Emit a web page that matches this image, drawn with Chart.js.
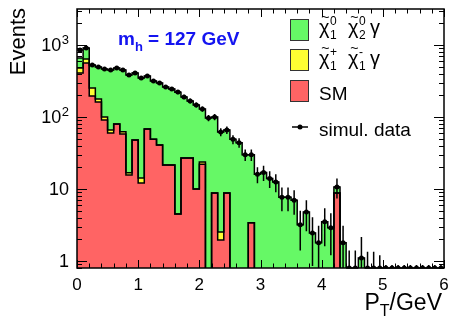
<!DOCTYPE html>
<html lang="en">
<head>
<meta charset="utf-8">
<script src="https://cdn.jsdelivr.net/npm/chart.js@4"></script>
<style>
  body { margin: 0; background: #fff; }
  canvas { display: block; }
</style>
</head>
<body>
<canvas id="ptChart" width="451" height="320"></canvas>
<script>
// lower edge of each 0.1 GeV bin
const ptLow = [0.0, 0.1, 0.2, 0.3, 0.4, 0.5, 0.6, 0.7, 0.8, 0.9,
               1.0, 1.1, 1.2, 1.3, 1.4, 1.5, 1.6, 1.7, 1.8, 1.9,
               2.0, 2.1, 2.2, 2.3, 2.4, 2.5, 2.6, 2.7, 2.8, 2.9,
               3.0, 3.1, 3.2, 3.3, 3.4, 3.5, 3.6, 3.7, 3.8, 3.9,
               4.0, 4.1, 4.2, 4.3, 4.4, 4.5, 4.6, 4.7, 4.8, 4.9,
               5.0, 5.1, 5.2, 5.3, 5.4, 5.5, 5.6, 5.7, 5.8, 5.9];
const BIN_WIDTH = 0.1;

const smEvents = [408, 562, 196, 161, 91, 60, 80, 58, 15.6, 48,
                  12.1, 68, 49, 41, 21.5, 21.5, 4.5, 27, 27, 10,
                  22, 0, 8.8, 1.96, 8.8, 0, 0, 0, 3.4, 0,
                  0, 0, 0, 0, 0, 0, 0, 0, 0, 0,
                  0, 0, 8.8, 0, 0, 0, 0, 0, 0, 0,
                  0, 0, 0, 0, 0, 0, 0, 0, 0, 0];
const charginoEvents = [72, 78, 57, 17, 9, 6, 0, 4.5, 1.2, 0,
                        2.1, 0, 0, 0, 0, 0, 0, 0, 0, 0,
                        1.7, 0, 0, 0.57, 0, 0, 0, 0, 0, 0,
                        0, 0, 0, 0, 0, 0, 0, 0, 0, 0,
                        0, 0, 0, 0, 0, 0, 0, 0, 0, 0,
                        0, 0, 0, 0, 0, 0, 0, 0, 0, 0];
const neutralinoEvents = [180, 268, 274, 317, 364, 384, 400, 387, 366, 360,
                          334, 303, 267, 256, 240, 224, 217, 163, 140, 137,
                          105, 97, 91, 59.5, 57, 49, 44, 30, 26.6, 16,
                          17, 14, 12.5, 7.7, 7.7, 7.0, 3.2, 4.8, 2.45, 1.8,
                          3.5, 2.9, 1.9, 1.8, 0, 0, 1.1, 0, 0, 0,
                          0, 0, 0, 0, 0, 0, 0, 0, 0, 0];
const dataEvents = [850, 908, 527, 495, 464, 450, 480, 450, 383, 408,
                    348, 371, 316, 297, 261, 245, 222, 190, 167, 147,
                    129, 97, 100, 62, 66, 49, 44, 30, 30, 16,
                    17, 14, 12.5, 7.7, 7.7, 7.0, 3.2, 4.8, 2.45, 1.8,
                    3.5, 2.9, 10.7, 1.8, 0, 0, 1.1, 0, 0, 0,
                    0, 0, 0, 0, 0, 0, 0, 0, 0, 0];
// error half width; for empty bins the upper end of the bar
const dataErr = [29, 30, 23, 22, 22, 21, 22, 21, 20, 20,
                 19, 19, 18, 17, 16, 16, 15, 14, 13, 12,
                 11, 10, 10, 8, 8, 7, 6.6, 5.5, 5.5, 4,
                 4.1, 3.7, 3.5, 2.8, 2.8, 2.6, 1.8, 2.2, 1.6, 1.3,
                 1.9, 1.7, 3.3, 1.3, 1.4, 1.4, 1.05, 1.35, 1.35, 1.2,
                 0.88, 0.88, 0.88, 0.88, 0.88, 0.88, 0.88, 0.88, 0.88, 0.88];

const xTickValues = [0, 1, 2, 3, 4, 5, 6];
const xTickLabels = ['0', '1', '2', '3', '4', '5', '6'];
const yTickValues = [1, 10, 100, 1000];
const yTickLabels = [['1', ''], ['10', ''], ['10', '2'], ['10', '3']];

const Y_MIN = 0.8, Y_MAX = 3160;
const FONT = '"Liberation Sans", Arial, Helvetica, sans-serif';
const GREEN = '#66f866', YELLOW = '#ffff33', RED = '#ff6464';

const redTop = smEvents.slice();
const yellowTop = smEvents.map((v, i) => v + charginoEvents[i]);
const greenTop = yellowTop.map((v, i) => v + neutralinoEvents[i]);

function stepPoints(values) {
    const pts = ptLow.map((x, i) => ({ x: x, y: values[i] > 0 ? values[i] : 0.1 }));
    const last = values[values.length - 1];
    pts.push({ x: ptLow[ptLow.length - 1] + BIN_WIDTH, y: last > 0 ? last : 0.1 });
    return pts;
}

const axesPlugin = {
    id: 'rootAxes',
    afterDatasetsDraw(chart) {
        const ctx = chart.ctx;
        const xs = chart.scales.x, ys = chart.scales.y, a = chart.chartArea;
        ctx.save();
        ctx.strokeStyle = '#000';
        ctx.lineWidth = 1.5;
        ctx.beginPath();
        for (let i = 0; i < ptLow.length; i++) {
            const v = dataEvents[i], e = dataErr[i];
            const xc = xs.getPixelForValue(ptLow[i] + BIN_WIDTH / 2);
            let top, bot, yv;
            if (v > 0) {
                yv = ys.getPixelForValue(v);
                top = ys.getPixelForValue(v + e);
                bot = v - e > Y_MIN ? ys.getPixelForValue(v - e) : a.bottom;
            } else {
                yv = a.bottom;
                top = ys.getPixelForValue(e);
                bot = a.bottom;
            }
            ctx.moveTo(xc, Math.max(top, a.top));
            ctx.lineTo(xc, bot);
            ctx.moveTo(xs.getPixelForValue(ptLow[i]), yv);
            ctx.lineTo(xs.getPixelForValue(ptLow[i] + BIN_WIDTH), yv);
        }
        ctx.stroke();
        ctx.restore();
    },
    afterDraw(chart) {
        const ctx = chart.ctx;
        const xs = chart.scales.x, ys = chart.scales.y, a = chart.chartArea;
        ctx.save();
        ctx.strokeStyle = '#000';
        ctx.fillStyle = '#000';
        ctx.lineWidth = 1.5;
        ctx.strokeRect(a.left, a.top, a.right - a.left, a.bottom - a.top);

        // x ticks, inward on bottom and top
        ctx.lineWidth = 1;
        ctx.beginPath();
        for (let k = 0; k <= 30; k++) {
            const px = Math.round(xs.getPixelForValue(k * 0.2)) + 0.5;
            const len = k % 5 === 0 ? 8 : 4.5;
            ctx.moveTo(px, a.bottom); ctx.lineTo(px, a.bottom - len);
            ctx.moveTo(px, a.top); ctx.lineTo(px, a.top + len);
        }
        // y ticks, log, inward on left and right
        for (let d = -1; d <= 3; d++) {
            for (let m = 1; m <= 9; m++) {
                const v = m * Math.pow(10, d);
                if (v < Y_MIN || v > Y_MAX) continue;
                const py = Math.round(ys.getPixelForValue(v)) + 0.5;
                const len = m === 1 ? 10 : 5;
                ctx.moveTo(a.left, py); ctx.lineTo(a.left + len, py);
                ctx.moveTo(a.right, py); ctx.lineTo(a.right - len, py);
            }
        }
        ctx.stroke();

        // tick labels
        ctx.font = '17px ' + FONT;
        ctx.textAlign = 'center';
        ctx.textBaseline = 'alphabetic';
        xTickValues.forEach((v, i) => ctx.fillText(xTickLabels[i], xs.getPixelForValue(v), 290));
        yTickValues.forEach((v, i) => {
            const py = ys.getPixelForValue(v);
            const [base, sup] = yTickLabels[i];
            let right = 69;
            ctx.textAlign = 'right';
            ctx.textBaseline = 'middle';
            if (sup) {
                ctx.font = '13px ' + FONT;
                ctx.textBaseline = 'alphabetic';
                ctx.fillText(sup, right, py - 1);
                right -= ctx.measureText(sup).width + 0.5;
                ctx.textBaseline = 'middle';
            }
            ctx.font = '18px ' + FONT;
            ctx.fillText(base, right, py + 1);
        });

        // axis titles
        ctx.save();
        ctx.translate(25, 8);
        ctx.rotate(-Math.PI / 2);
        ctx.font = '22px ' + FONT;
        ctx.textAlign = 'right';
        ctx.textBaseline = 'alphabetic';
        ctx.fillText('Events', 0, 0);
        ctx.restore();

        ctx.textAlign = 'left';
        ctx.textBaseline = 'alphabetic';
        ctx.font = '23px ' + FONT;
        const wGeV = ctx.measureText('/GeV').width;
        const wP = ctx.measureText('P').width;
        ctx.font = '16px ' + FONT;
        const wT = ctx.measureText('T').width;
        let xr = 442 - wGeV - wT - wP;
        ctx.font = '23px ' + FONT;
        ctx.fillText('P', xr, 310);
        ctx.font = '16px ' + FONT;
        ctx.fillText('T', xr + wP, 316);
        ctx.font = '23px ' + FONT;
        ctx.fillText('/GeV', xr + wP + wT, 310);

        // m_h label
        ctx.fillStyle = '#1414f0';
        ctx.font = 'bold 19px ' + FONT;
        ctx.fillText('m', 118, 45);
        const wm = ctx.measureText('m').width;
        ctx.font = 'bold 13px ' + FONT;
        ctx.fillText('h', 118 + wm, 51);
        const wh = ctx.measureText('h').width;
        ctx.font = 'bold 19px ' + FONT;
        ctx.fillText(' = 127 GeV', 118 + wm + wh, 45);

        // legend
        const boxes = [[GREEN, 19], [YELLOW, 49], [RED, 80]];
        ctx.lineWidth = 1;
        ctx.strokeStyle = '#333';
        boxes.forEach(([c, y]) => {
            ctx.fillStyle = c;
            ctx.fillRect(290.5, y + 0.5, 18, 21);
            ctx.strokeRect(290.5, y + 0.5, 18, 21);
        });
        ctx.strokeStyle = '#000';
        ctx.lineWidth = 1.5;
        ctx.beginPath();
        ctx.moveTo(292, 127); ctx.lineTo(308, 127);
        ctx.stroke();
        ctx.fillStyle = '#000';
        ctx.beginPath();
        ctx.arc(300, 127, 2.5, 0, Math.PI * 2);
        ctx.fill();

        function chi(x, base, sup, sub) {
            ctx.font = '20px ' + FONT;
            ctx.fillText('χ', x, base);
            const w = ctx.measureText('χ').width;
            ctx.font = '14px ' + FONT;
            const tw = ctx.measureText('~').width;
            ctx.fillText('~', x + w / 2 - tw / 2 + 1, base - 12);
            ctx.font = '12px ' + FONT;
            ctx.fillText(sup, x + w + 0.5, base - 9);
            ctx.fillText(sub, x + w + 0.5, base + 5);
        }
        chi(319, 34, '0', '1');
        chi(348, 34, '0', '2');
        ctx.font = '20px ' + FONT;
        ctx.fillText('γ', 370, 34);
        chi(319, 65, '+', '1');
        chi(348, 65, '-', '1');
        ctx.font = '20px ' + FONT;
        ctx.fillText('γ', 370, 65);
        ctx.font = '19px ' + FONT;
        ctx.fillText('SM', 319, 100);
        ctx.fillText('simul. data', 319, 136);
        ctx.restore();
    }
};

const ctx = document.getElementById('ptChart').getContext('2d');
const chart = new Chart(ctx, {
    type: 'line',
    data: {
        datasets: [
            {
                label: 'SM',
                data: stepPoints(redTop),
                stepped: 'before',
                backgroundColor: RED,
                borderColor: '#000',
                borderWidth: 1.5,
                pointRadius: 0,
                fill: 'start',
                order: 3
            },
            {
                label: 'chargino pair',
                data: stepPoints(yellowTop),
                stepped: 'before',
                backgroundColor: YELLOW,
                borderColor: '#000',
                borderWidth: 1.5,
                pointRadius: 0,
                fill: '-1',
                order: 2
            },
            {
                label: 'neutralino pair',
                data: stepPoints(greenTop),
                stepped: 'before',
                backgroundColor: GREEN,
                borderColor: '#000',
                borderWidth: 1.5,
                pointRadius: 0,
                fill: '-1',
                order: 1
            },
            {
                type: 'scatter',
                label: 'simul. data',
                data: ptLow.map((x, i) => ({ x: x + BIN_WIDTH / 2, y: dataEvents[i] > 0 ? dataEvents[i] : Y_MIN })),
                showLine: false,
                pointRadius: 2.5,
                pointBackgroundColor: '#000',
                pointBorderWidth: 0,
                order: 0
            }
        ]
    },
    options: {
        responsive: false,
        maintainAspectRatio: false,
        devicePixelRatio: 1,
        animation: false,
        layout: { padding: { left: 77, right: 7, top: 9, bottom: 52 } },
        scales: {
            x: { type: 'linear', min: 0, max: 6, display: false },
            y: { type: 'logarithmic', min: Y_MIN, max: Y_MAX, display: false }
        },
        plugins: {
            legend: { display: false },
            tooltip: { enabled: false },
            filler: { drawTime: 'beforeDatasetsDraw' }
        }
    },
    plugins: [axesPlugin]
});
</script>
</body>
</html>
